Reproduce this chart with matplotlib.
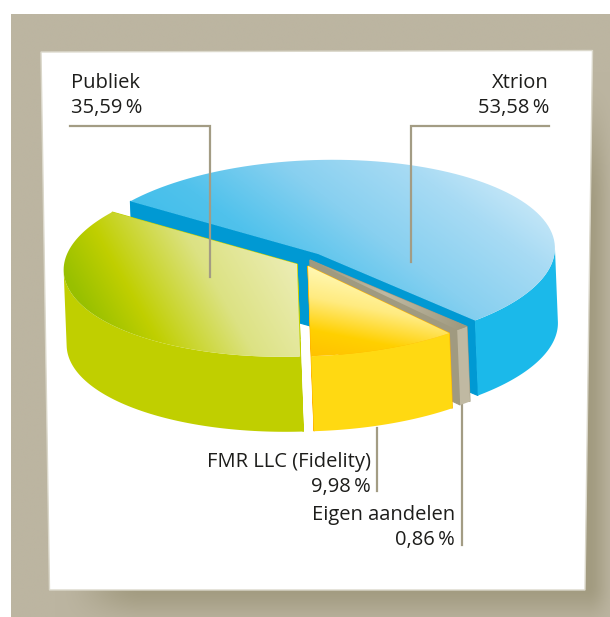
#!/usr/bin/env python3
"""Aandeelhouders: 3D taartdiagram op papier met schaduw."""
import numpy as np
import matplotlib
matplotlib.use("Agg")
import matplotlib.pyplot as plt
from matplotlib.colors import LinearSegmentedColormap, to_rgb
from matplotlib.patches import Polygon, PathPatch
from matplotlib.path import Path

names = ["Xtrion", "Publiek", "FMR LLC (Fidelity)", "Eigen aandelen"]
shares = [53.58, 35.59, 9.98, 0.86]

plt.rcParams["font.family"] = ["Open Sans", "DejaVu Sans"]

W, H = 610, 617
RX, RY = 237, 94
TILT = np.radians(1.7)  # ellips staat iets scheef
DEPTH = np.array([3.0, 75.0])
START = -49.2
LINE = "#a39c84"
TEXT = "#1d1d1b"


def arc(c, t0, t1, scale=1.0):
    t = np.radians(np.linspace(t0, t1, 90))
    ex, ey = scale * RX * np.cos(t), scale * RY * np.sin(t)
    return np.column_stack([c[0] + ex * np.cos(TILT) - ey * np.sin(TILT),
                            c[1] - ey * np.cos(TILT) - ex * np.sin(TILT)])


def grad_fill(ax, pts, stops, p0, p1, zorder):
    """vul een polygoon met een lineair verloop van p0 naar p1"""
    cmap = LinearSegmentedColormap.from_list("g", stops, N=256)
    xs, ys = np.meshgrid(np.arange(0, W, 0.5), np.arange(0, H, 0.5))
    d = np.array(p1, float) - np.array(p0, float)
    t = ((xs - p0[0]) * d[0] + (ys - p0[1]) * d[1]) / (d @ d)
    im = ax.imshow(t, cmap=cmap, vmin=0, vmax=1, extent=(0, W, H, 0),
                   interpolation="bilinear", zorder=zorder, aspect="auto")
    patch = PathPatch(Path(np.vstack([pts, pts[0]]), closed=True), transform=ax.transData,
                      fc="none", ec="none")
    ax.add_patch(patch)
    im.set_clip_path(patch)


def draw_slice(ax, c, t0, t1, wall, face, top_stops, g0, g1, zorder, scale=1.0):
    c = np.array(c, float)
    a0, a1 = arc(c, t0, t0, scale)[0], arc(c, t1, t1, scale)[0]
    # radiale zijvlakken, daarna buitenwand, bovenvlak als laatste
    for a in (a1, a0):
        ax.add_patch(Polygon([c, a, a + DEPTH, c + DEPTH], fc=face, ec=face, lw=0.8, zorder=zorder))
    for lo, hi in ((-180, 0), (180, 360)):
        s, e = max(t0, lo), min(t1, hi)
        if s < e:
            rim = arc(c, s, e, scale)
            ax.add_patch(Polygon(np.vstack([rim, rim[::-1] + DEPTH]), fc=wall, ec="none", zorder=zorder + 0.1))
    grad_fill(ax, np.vstack([c, arc(c, t0, t1, scale)]), top_stops, g0, g1, zorder + 0.2)


fig = plt.figure(figsize=(W / 100, H / 100), dpi=100, facecolor="white")
ax = fig.add_axes([0, 0, 1, 1])
ax.set_xlim(0, W)
ax.set_ylim(H, 0)
ax.axis("off")

# achtergrond met zachte schaduw onder het papier
xs, ys = np.meshgrid(np.arange(W) + 0.5, np.arange(H) + 0.5)


def smooth(v, a, b):
    u = np.clip((v - a) / (b - a), 0, 1)
    return u ** 2 * (3 - 2 * u)


shadow = (smooth(xs, 45, 135) * (1 - smooth(xs, 588, 618))
          * smooth(ys, 60, 190) * (1 - smooth(ys, 585, 632)))
base, dark = np.array(to_rgb("#bcb5a1")), np.array(to_rgb("#a29b80"))
bg = base + (dark - base) * shadow[..., None]
ax.imshow(bg, extent=(11, W, H, 14), zorder=0, aspect="auto")
ax.set_xlim(0, W)
ax.set_ylim(H, 0)
ax.add_patch(Polygon([(41, 52), (592.5, 50.5), (585, 590), (49.5, 590)], fc="white", ec="#dbd8cb", lw=1, zorder=1))

# hoeken uit de aandelen; de illustratie wijkt hier en daar iets af
edges = START + np.cumsum([0] + shares) * 3.6
edges[1] -= 2
edges[2] -= 1.7

draw_slice(ax, (318, 254), edges[0], edges[1], "#1bb9ea", "#0099d3",
           ["#3bbdea", "#50c2ec", "#88d0f0", "#a8dbf4", "#d6eefa"], (200, 290), (380, 50), 2)
draw_slice(ax, (297, 264), edges[1], edges[2], "#c0cf00", "#c0cf00",
           [(0, "#98c000"), (0.22, "#c0cf00"), (0.58, "#dce283"), (1, "#eeeebb")], (80, 300), (267, 193), 3, scale=0.985)
draw_slice(ax, (310, 260), edges[3], edges[4], "#c0b9a2", "#a09a80",
           ["#a09a80", "#c0b9a2", "#a09a80"], (312, 258), (460, 330), 4)
draw_slice(ax, (308, 266), edges[2], edges[3], "#ffd912", "#ffb400",
           ["#fff9b8", "#ffeb80", "#ffd000", "#ffbe00"], (307, 263), (288, 358), 5, scale=0.96)

# verwijslijnen
lw = 1.6
ax.plot([70, 210, 210], [126, 126, 277], color=LINE, lw=lw, solid_joinstyle="miter", zorder=8)
ax.plot([549, 411, 411], [126, 126, 262], color=LINE, lw=lw, solid_joinstyle="miter", zorder=8)
ax.plot([377, 377], [428, 491], color=LINE, lw=lw, zorder=3)
ax.plot([462, 462], [405, 545], color=LINE, lw=lw, zorder=3)


def label(i, x, y, ha):
    pct = f"{shares[i]:.2f}".replace(".", ",") + "\u2009%"
    ax.text(x, y, names[i], ha=ha, va="baseline", fontsize=14.5, color=TEXT, zorder=9)
    ax.text(x, y + 25, pct, ha=ha, va="baseline", fontsize=14.5, color=TEXT, zorder=9)


label(1, 71, 88, "left")
label(0, 549, 88, "right")
label(2, 371, 467, "right")
label(3, 455, 520, "right")

fig.savefig("out.png", dpi=100, facecolor="white")
plt.close()
